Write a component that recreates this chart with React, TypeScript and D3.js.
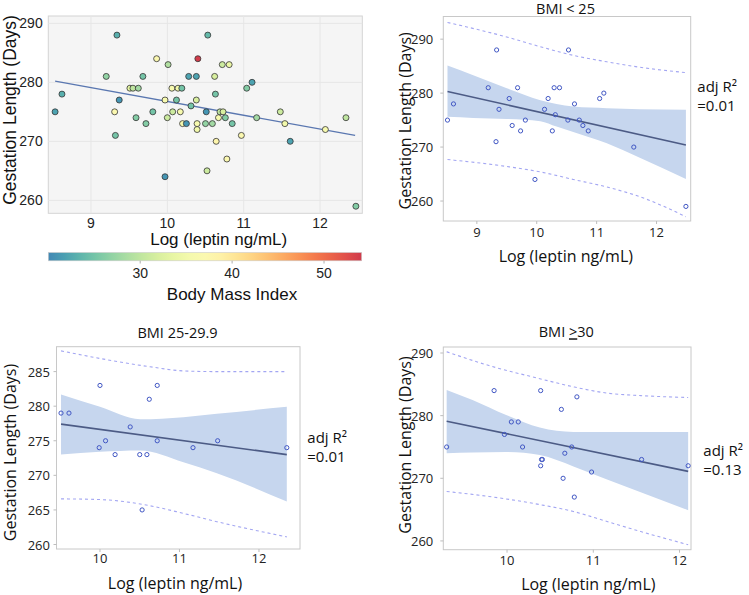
import React from "react";
import * as d3 from "d3";

// ---------- Panel 1: all subjects, coloured by BMI ----------
const allLeptin = [8.53, 8.62, 9.34, 9.31, 9.32, 9.37, 9.2, 9.51, 9.55, 9.62, 9.59, 9.68, 9.72, 9.81, 9.86, 9.97, 10.0, 10.01, 9.97, 10.06, 10.07, 10.14, 10.19, 10.12, 10.17, 10.2, 10.25, 10.31, 10.28, 10.38, 10.38, 10.4, 10.39, 10.39, 10.51, 10.5, 10.53, 10.52, 10.59, 10.62, 10.63, 10.64, 10.67, 10.69, 10.73, 10.72, 10.81, 10.76, 10.78, 10.85, 10.97, 11.04, 11.11, 11.17, 11.48, 11.54, 11.61, 12.07, 12.34, 12.47];
const allGestation = [275, 278, 288, 275, 271, 277, 281, 279, 279, 279, 274, 281, 273, 275, 284, 277, 274, 283, 264, 279, 275, 279, 279, 277, 275, 273, 273, 276, 281, 281, 277, 284, 273, 272, 275, 273, 288, 265, 273, 281, 278, 270, 274, 275, 275, 283, 283, 274, 267, 273, 271, 279, 280, 274, 275, 273, 270, 272, 274, 259];
const allBMI = [22, 23, 23, 37, 25, 21, 27, 33, 30, 28, 26, 25, 26, 25, 37, 36, 31, 29, 21, 36, 31, 35, 25, 25, 36, 36, 21, 25, 22, 22, 32, 54, 36, 35, 21, 27, 24, 31, 28, 32, 25, 38, 36, 30, 32, 31, 34, 26, 37, 25, 37, 26, 22, 28, 31, 35, 22, 36, 30, 26];
const allFitX = [8.53, 12.46];
const allFitY = [280.2, 271.0];
const p1XTicks = [9, 10, 11, 12];
const p1YTicks = [260, 270, 280, 290];
const bmiTicks = [30, 40, 50];

// ---------- Panel 2: BMI < 25 ----------
const lowLeptin = [8.51, 8.61, 9.33, 9.19, 9.37, 9.32, 9.54, 9.68, 9.59, 9.73, 9.81, 9.97, 10.13, 10.19, 10.29, 10.38, 10.26, 10.31, 10.53, 10.52, 10.63, 10.71, 10.77, 10.86, 11.05, 11.12, 11.62, 12.49];
const lowGestation = [275, 278, 288, 281, 277, 271, 279, 281, 274, 273, 275, 264, 277, 279, 281, 281, 273, 276, 288, 275, 278, 275, 274, 273, 279, 280, 270, 259];
const lowFitX = [8.51, 12.49];
const lowFitY = [280.3, 270.4];
const lowBandX = [8.51, 8.94, 9.5, 10.06, 10.33, 10.61, 11.17, 11.72, 12.49];
const lowBandHi = [285.1, 283.3, 280.9, 278.7, 278.0, 277.5, 277.2, 277.0, 276.9];
const lowBandLo = [275.6, 275.4, 275.2, 274.8, 273.8, 272.8, 270.7, 268.0, 264.1];
const lowPiX = [8.51, 9.5, 10.06, 10.61, 11.17, 11.72, 12.49];
const lowPiHi = [293.1, 290.4, 288.6, 287.0, 285.8, 284.8, 283.8];
const lowPiLo = [267.7, 266.4, 265.4, 264.0, 262.6, 260.8, 257.1];
const lowXTicks = [9, 10, 11, 12];
const lowYTicks = [260, 270, 280, 290];

// ---------- Panel 3: BMI 25-29.9 ----------
const midLeptin = [9.51, 9.61, 10.0, 9.99, 10.07, 10.19, 10.38, 10.5, 10.59, 10.62, 10.72, 10.72, 10.53, 11.17, 11.48, 12.35];
const midGestation = [279, 279, 283, 274, 275, 273, 277, 273, 273, 281, 283, 275, 265, 274, 275, 274];
const midFitX = [9.51, 12.35];
const midFitY = [277.4, 273.0];
const midBandX = [9.51, 10.0, 10.505, 11.05, 11.47, 12.35];
const midBandHi = [281.7, 279.9, 278.1, 278.4, 278.9, 279.9];
const midBandLo = [273.0, 273.4, 273.6, 271.9, 270.3, 266.2];
const midPiX = [9.51, 10.0, 10.63, 11.05, 11.47, 12.35];
const midPiHi = [288.0, 286.9, 285.7, 285.1, 285.0, 285.0];
const midPiLo = [266.6, 266.5, 265.6, 264.5, 263.3, 261.1];
const midXTicks = [10, 11, 12];
const midYTicks = [260, 265, 270, 275, 280, 285];

// ---------- Panel 4: BMI >= 30 ----------
const highLeptin = [9.3, 9.85, 10.39, 10.81, 10.63, 10.05, 10.13, 9.97, 10.18, 10.75, 10.67, 10.4, 10.41, 10.39, 10.65, 10.98, 10.78, 11.56, 12.1];
const highGestation = [275, 284, 284, 283, 281, 279, 279, 277, 275, 275, 274, 273, 273, 272, 270, 271, 267, 273, 272];
const highFitX = [9.3, 12.1];
const highFitY = [279.1, 271.1];
const highBandX = [9.3, 9.6, 9.99, 10.38, 10.77, 11.16, 12.1];
const highBandHi = [284.1, 282.5, 280.1, 278.1, 277.4, 277.4, 277.4];
const highBandLo = [274.0, 274.1, 274.2, 273.7, 271.9, 269.8, 264.9];
const highPiX = [9.3, 9.79, 10.38, 10.77, 11.16, 11.55, 12.1];
const highPiHi = [290.2, 288.0, 285.9, 284.6, 283.6, 283.2, 282.9];
const highPiLo = [267.9, 267.1, 265.8, 264.7, 263.1, 261.5, 259.4];
const highXTicks = [10, 11, 12];
const highYTicks = [260, 270, 280, 290];

const SANS1 = "'Liberation Sans', Arial, sans-serif";
const SANS2 = "'Open Sans', 'Noto Sans', sans-serif";

const bmiT = d3.scaleLinear().domain([20, 54]).range([0.9, 0.1]);
const bmiColor = (b: number) => d3.interpolateSpectral(bmiT(b));

function Panel1() {
  const L = 48.3, R = 362.3, T = 16, B = 213.3;
  const x = d3.scaleLinear().domain([8.441, 12.554]).range([L, R]);
  const y = d3.scaleLinear().domain([257.8, 291.24]).range([B, T]);
  const cb = d3.scaleLinear().domain([20, 54.1]).range([48.3, 361.7]);
  const stops = d3.range(0, 1.0001, 0.05);
  const line = d3.line<number>().x((d, i) => x(allFitX[i])).y((d) => y(d));
  return (
    <g fontFamily={SANS1}>
      <rect x={L} y={T} width={R - L} height={B - T} fill="#f5f5f5" stroke="#d4d4d4" strokeWidth={1} />
      {p1XTicks.map((t) => (
        <line key={"gx" + t} x1={x(t)} x2={x(t)} y1={T} y2={B} stroke="#e6e6e6" strokeWidth={1} />
      ))}
      {p1YTicks.map((t) => (
        <line key={"gy" + t} x1={L} x2={R} y1={y(t)} y2={y(t)} stroke="#e6e6e6" strokeWidth={1} />
      ))}
      <path d={line(allFitY) || ""} fill="none" stroke="#5a77b0" strokeWidth={1.3} />
      {allLeptin.map((v, i) => (
        <circle key={i} cx={x(v)} cy={y(allGestation[i])} r={3} fill={bmiColor(allBMI[i])} stroke="#333" strokeWidth={0.8} />
      ))}
      {p1XTicks.map((t) => (
        <text key={"tx" + t} x={x(t)} y={228} textAnchor="middle" fontSize={14} fill="#222">{t}</text>
      ))}
      {p1YTicks.map((t) => (
        <text key={"ty" + t} x={42.7} y={y(t)} textAnchor="end" dominantBaseline="central" fontSize={14} fill="#222">{t}</text>
      ))}
      <text x={218.7} y={245} textAnchor="middle" fontSize={17} fill="#111">Log (leptin ng/mL)</text>
      <text transform="translate(15.5,110) rotate(-90)" textAnchor="middle" fontSize={17.5} fill="#111">Gestation Length (Days)</text>
      <defs>
        <linearGradient id="bmiGrad" x1="0" x2="1" y1="0" y2="0">
          {stops.map((s) => (
            <stop key={s} offset={s} stopColor={bmiColor(20 + s * 34.1)} />
          ))}
        </linearGradient>
      </defs>
      <rect x={48.3} y={252.5} width={313.4} height={8.3} fill="url(#bmiGrad)" stroke="#ccc" strokeWidth={0.6} />
      {bmiTicks.map((t) => (
        <g key={"cb" + t}>
          <line x1={cb(t)} x2={cb(t)} y1={260.8} y2={263.5} stroke="#999" strokeWidth={0.8} />
          <text x={cb(t)} y={278.3} textAnchor="middle" fontSize={14} fill="#222">{t}</text>
        </g>
      ))}
      <text x={232} y={300} textAnchor="middle" fontSize={17} fill="#111">Body Mass Index</text>
    </g>
  );
}

type RegProps = {
  frame: { L: number; R: number; T: number; B: number };
  xDomain: [number, number];
  yDomain: [number, number];
  xTicks: number[];
  yTicks: number[];
  px: number[];
  py: number[];
  fitX: number[];
  fitY: number[];
  bandX: number[];
  bandHi: number[];
  bandLo: number[];
  piX: number[];
  piHi: number[];
  piLo: number[];
  title: React.ReactNode;
  titlePos: [number, number];
  xTickY: number;
  yTickX: number;
  xTitlePos: [number, number];
  yTitlePos: [number, number];
  r2: string;
  r2Pos: [number, number, number];
};

function RegPanel(p: RegProps) {
  const { L, R, T, B } = p.frame;
  const x = d3.scaleLinear().domain(p.xDomain).range([L, R]);
  const y = d3.scaleLinear().domain(p.yDomain).range([B, T]);
  const area = d3
    .area<number>()
    .x((d, i) => x(p.bandX[i]))
    .y0((d, i) => y(p.bandLo[i]))
    .y1((d) => y(d))
    .curve(d3.curveMonotoneX);
  const fit = d3.line<number>().x((d, i) => x(p.fitX[i])).y((d) => y(d));
  const pi = d3.line<number>().x((d, i) => x(p.piX[i])).y((d) => y(d)).curve(d3.curveMonotoneX);
  return (
    <g fontFamily={SANS2}>
      <rect x={L} y={T} width={R - L} height={B - T} fill="#fff" stroke="#c8c8c8" strokeWidth={1} />
      <path d={area(p.bandHi) || ""} fill="#c6d6ee" stroke="none" />
      <path d={pi(p.piHi) || ""} fill="none" stroke="#a3a6f2" strokeWidth={1.1} strokeDasharray="3,3" />
      <path d={pi(p.piLo) || ""} fill="none" stroke="#a3a6f2" strokeWidth={1.1} strokeDasharray="3,3" />
      <path d={fit(p.fitY) || ""} fill="none" stroke="#4c5b85" strokeWidth={1.6} />
      {p.px.map((v, i) => (
        <circle key={i} cx={x(v)} cy={y(p.py[i])} r={2.1} fill="none" stroke="#4157c4" strokeWidth={1} />
      ))}
      {p.xTicks.map((t) => (
        <g key={"x" + t}>
          <line x1={x(t)} x2={x(t)} y1={B} y2={B + 3} stroke="#bdbdbd" />
          <text x={x(t)} y={p.xTickY} textAnchor="middle" fontSize={13} fill="#222">{t}</text>
        </g>
      ))}
      {p.yTicks.map((t) => (
        <g key={"y" + t}>
          <line x1={L - 3} x2={L} y1={y(t)} y2={y(t)} stroke="#bdbdbd" />
          <text x={p.yTickX} y={y(t)} textAnchor="end" dominantBaseline="central" fontSize={13} fill="#222">{t}</text>
        </g>
      ))}
      <text x={p.titlePos[0]} y={p.titlePos[1]} textAnchor="middle" fontSize={14.5} fill="#111">{p.title}</text>
      <text x={p.xTitlePos[0]} y={p.xTitlePos[1]} textAnchor="middle" fontSize={16} fill="#111">Log (leptin ng/mL)</text>
      <text transform={`translate(${p.yTitlePos[0]},${p.yTitlePos[1]}) rotate(-90)`} textAnchor="middle" fontSize={16} fill="#111">
        Gestation Length (Days)
      </text>
      <text x={p.r2Pos[0]} y={p.r2Pos[1]} fontSize={15} fill="#111">adj R²</text>
      <text x={p.r2Pos[0]} y={p.r2Pos[2]} fontSize={15} fill="#111">{p.r2}</text>
    </g>
  );
}

export default function App() {
  return (
    <div style={{ position: "absolute", left: 0, top: 0 }}>
      <svg width={749} height={595} style={{ display: "block", background: "#fff" }}>
        <Panel1 />
        <RegPanel
          frame={{ L: 443.3, R: 690.7, T: 16.5, B: 221 }}
          xDomain={[8.44, 12.57]}
          yDomain={[256.3, 294.2]}
          xTicks={lowXTicks}
          yTicks={lowYTicks}
          px={lowLeptin}
          py={lowGestation}
          fitX={lowFitX}
          fitY={lowFitY}
          bandX={lowBandX}
          bandHi={lowBandHi}
          bandLo={lowBandLo}
          piX={lowPiX}
          piHi={lowPiHi}
          piLo={lowPiLo}
          title="BMI < 25"
          titlePos={[565.5, 13.5]}
          xTickY={236.7}
          yTickX={433.3}
          xTitlePos={[565.8, 261.7]}
          yTitlePos={[410.7, 120.8]}
          r2="=0.01"
          r2Pos={[697.3, 92.3, 111]}
        />
        <RegPanel
          frame={{ L: 56.5, R: 300, T: 346.7, B: 549 }}
          xDomain={[9.453, 12.516]}
          yDomain={[259.35, 288.6]}
          xTicks={midXTicks}
          yTicks={midYTicks}
          px={midLeptin}
          py={midGestation}
          fitX={midFitX}
          fitY={midFitY}
          bandX={midBandX}
          bandHi={midBandHi}
          bandLo={midBandLo}
          piX={midPiX}
          piHi={midPiHi}
          piLo={midPiLo}
          title="BMI  25-29.9"
          titlePos={[177.5, 337.7]}
          xTickY={563.3}
          yTickX={50}
          xTitlePos={[175, 589]}
          yTitlePos={[16, 452.5]}
          r2="=0.01"
          r2Pos={[307.3, 443.3, 461.7]}
        />
        <RegPanel
          frame={{ L: 443.3, R: 691, T: 347, B: 549.7 }}
          xDomain={[9.261, 12.133]}
          yDomain={[258.6, 290.96]}
          xTicks={highXTicks}
          yTicks={highYTicks}
          px={highLeptin}
          py={highGestation}
          fitX={highFitX}
          fitY={highFitY}
          bandX={highBandX}
          bandHi={highBandHi}
          bandLo={highBandLo}
          piX={highPiX}
          piHi={highPiHi}
          piLo={highPiLo}
          title={
            <>
              BMI <tspan textDecoration="underline">&gt;</tspan>30
            </>
          }
          titlePos={[566.3, 337.3]}
          xTickY={565}
          yTickX={433.3}
          xTitlePos={[588.3, 589.5]}
          yTitlePos={[410.7, 445]}
          r2="=0.13"
          r2Pos={[703.3, 456, 475]}
        />
      </svg>
    </div>
  );
}
